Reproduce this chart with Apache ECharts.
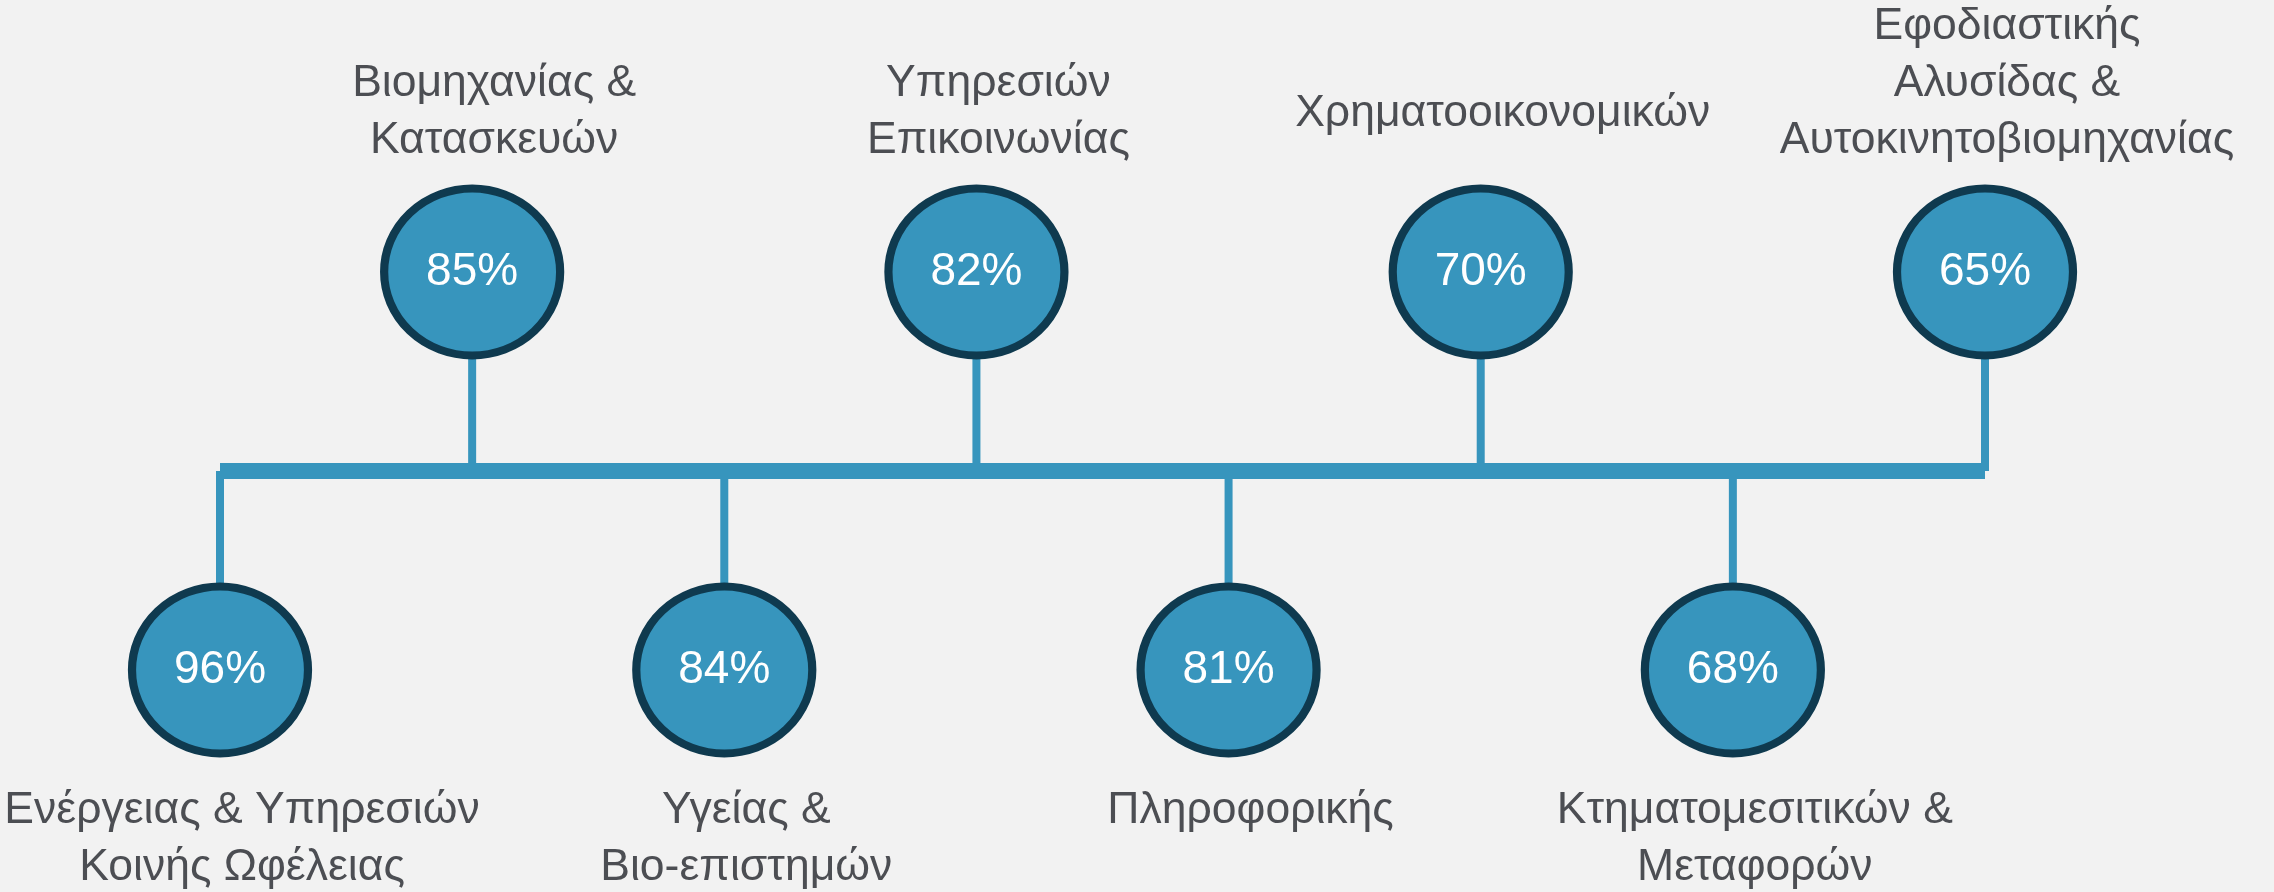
<!DOCTYPE html>
<html>
<head>
<meta charset="utf-8">
<script src="https://cdn.jsdelivr.net/npm/echarts@6/dist/echarts.min.js"></script>
<style>
html, body { margin: 0; padding: 0; background: #f2f2f2; }
#chart { width: 2274px; height: 892px; }
</style>
</head>
<body>
<div id="chart"></div>
<script>
// ---- data ----
const categories = [
  "Ενέργειας & Υπηρεσιών\nΚοινής Ωφέλειας",
  "Βιομηχανίας &\nΚατασκευών",
  "Υγείας &\nΒιο-επιστημών",
  "Υπηρεσιών\nΕπικοινωνίας",
  "Πληροφορικής",
  "Χρηματοοικονομικών",
  "Κτηματομεσιτικών &\nΜεταφορών",
  "Εφοδιαστικής\nΑλυσίδας &\nΑυτοκινητοβιομηχανίας"
];
const values = [96, 85, 84, 82, 81, 70, 68, 65];

// ---- layout helpers (alternate below / above the spine) ----
const sides = values.map((v, i) => (i % 2 === 1 ? 1 : -1));

const FILL = '#3795bd';
const BORDER = '#0f3a4f';
const TEXT = '#22242b';
const FONT = '"Liberation Sans", Arial, sans-serif';
const LINE_H = 57;

const chart = echarts.init(document.getElementById('chart'), null, { renderer: 'canvas' });

const labelData = sides.map((s, i) => {
  const lines = categories[i].split('\n').length;
  const top = s > 0;
  return {
    value: s,
    label: {
      position: top ? 'top' : 'bottom',
      distance: top ? 19 : 29,
      padding: (top && lines === 1) ? [0, 0, Math.round(LINE_H / 2) - 2, 0] : 0
    }
  };
});

chart.setOption({
  backgroundColor: '#f2f2f2',
  animation: false,
  grid: { left: 220, right: 289, top: 272, bottom: 222, containLabel: false },
  xAxis: {
    type: 'category',
    data: categories,
    boundaryGap: false,
    show: false
  },
  yAxis: { type: 'value', min: -1, max: 1, show: false },
  series: [
    {
      name: 'stems',
      type: 'bar',
      data: sides,
      barWidth: 8,
      itemStyle: { color: FILL },
      silent: true,
      z: 1
    },
    {
      name: 'spine',
      type: 'line',
      data: values.map(() => 0),
      symbol: 'none',
      lineStyle: { color: FILL, width: 16, cap: 'butt' },
      silent: true,
      z: 2
    },
    {
      name: 'circles',
      type: 'scatter',
      data: sides,
      symbol: 'circle',
      symbolSize: [176, 167],
      itemStyle: { color: FILL, borderColor: BORDER, borderWidth: 8, opacity: 1 },
      label: {
        show: true,
        position: 'inside',
        formatter: p => values[p.dataIndex] + '%',
        color: '#ffffff',
        fontSize: 46,
        fontFamily: FONT
      },
      silent: true,
      z: 3
    },
    {
      name: 'names',
      type: 'scatter',
      data: labelData,
      symbol: 'circle',
      symbolSize: [176, 167],
      itemStyle: { color: 'rgba(0,0,0,0)', borderWidth: 0 },
      label: {
        show: true,
        formatter: p => categories[p.dataIndex],
        color: TEXT,
        fontSize: 44.5,
        lineHeight: LINE_H,
        fontFamily: FONT,
        align: 'center',
        offset: [22, 0]
      },
      silent: true,
      z: 4
    }
  ]
});
</script>
</body>
</html>
